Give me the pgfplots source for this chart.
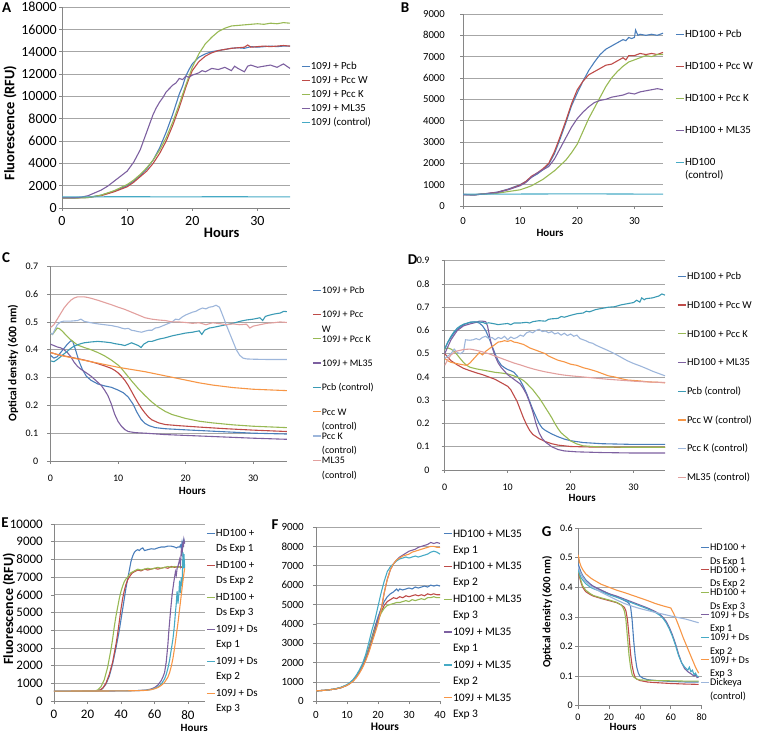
\documentclass[border=0pt]{standalone}
\usepackage{pgfplots}
\pgfplotsset{compat=1.18}
\usepackage{fontspec}
\setmainfont{Carlito}
\definecolor{cblue}{HTML}{4A7EBB}
\definecolor{cred}{HTML}{BE4B48}
\definecolor{cgreen}{HTML}{98B954}
\definecolor{cpurple}{HTML}{7D60A0}
\definecolor{caqua}{HTML}{46AAC5}
\definecolor{cteal}{HTML}{3A9AB4}
\definecolor{corange}{HTML}{F79646}
\definecolor{clblue}{HTML}{9DB6DB}
\definecolor{cpink}{HTML}{E2A09E}
\definecolor{gridc}{HTML}{A6A6A6}
\definecolor{axc}{HTML}{868686}
\newcommand{\fs}[1]{\fontsize{#1}{#1}\selectfont}
\newcommand{\two}[3]{\renewcommand{\arraystretch}{#1}\begin{tabular}[t]{@{}l@{}}#2\\#3\end{tabular}}
\pgfplotsset{
  panel/.style={
    scale only axis, anchor=north west,
    axis x line*=bottom, axis y line*=left,
    axis line style={-, draw=axc, line width=0.7pt},
    ymajorgrids, grid style={draw=gridc, line width=0.7pt},
    tick style={draw=axc, line width=0.6pt}, tick align=outside, major tick length=3pt,
    enlargelimits=false, clip=true,
    scaled ticks=false,
    /pgf/number format/assume math mode=true,
    /pgf/number format/fixed,
    /pgf/number format/set thousands separator={},
    every axis plot/.append style={line width=1.1pt, mark=none},
    xlabel={Hours}, ymin=0,
    legend image code/.code={\path (0pt,0pt); \draw[##1,line width=1.3pt] (0pt,3.3pt) -- (8pt,3.3pt);},
  },
  lg/.style n args={5}{legend style={at={(#1,#2)}, anchor=north west, draw=none, fill=none,
      inner xsep=0pt, inner ysep=0pt, row sep=0pt, column sep=0.5pt, font=\fs{#3},
      cells={anchor=base west},
      nodes={inner sep=0pt, outer sep=0pt, text height=#4, text depth=#5}}},
  tl/.style n args={3}{tick label style={font=\fs{#1}},
      yticklabel style={anchor=east, inner sep=0pt, xshift=-#2},
      xticklabel style={anchor=north, inner sep=0pt, yshift=-#3}},
  xl/.style n args={3}{every axis x label/.style={at={(axis description cs:#1,#2)}, anchor=center, font=\bfseries\fs{#3}}},
  yl/.style n args={3}{every axis y label/.style={at={(axis description cs:#1,#2)}, anchor=center, rotate=90, font=\bfseries\fs{#3}}},
}
\begin{document}
\begin{tikzpicture}
\path[use as bounding box] (0pt,0pt) rectangle (760pt,-733pt);

% ---------------- A ----------------
\begin{axis}[panel, at={(62pt,-7pt)}, width=228pt, height=201pt,
  xmin=0, xmax=35, ymax=18000, xtick={0,10,20,30}, ytick={0,2000,...,18000},
  tl={14}{2pt}{5pt}, xl={0.70}{-0.124}{14.5}, yl={-0.228}{0.423}{14.5},
  ylabel={Fluorescence (RFU)},
  lg={1.0482}{0.7289}{10.8}{8.1pt}{5.9pt}]
\addplot[cblue] coordinates {(0,900)(2,910)(4,950)(6,1150)(8,1500)(10,2000)(11,2400)(12,2900)(13,3500)(14,4300)(15,5400)(16,6800)(17,8400)(17.5,9300)(18,10200)(18.5,10900)(19,11800)(19.5,12400)(20,12900)(20.5,13200)(21,13500)(22,13800)(23,14000)(24,14100)(25,14200)(26,14300)(27,14350)(28,14300)(29,14450)(30,14400)(31,14450)(32,14500)(33,14450)(34,14500)(35,14500)};
\addlegendentry{109J + Pcb}
\addplot[cred] coordinates {(0,900)(2,910)(4,940)(6,1100)(8,1450)(10,1900)(11,2300)(12,2800)(13,3300)(14,4000)(15,4900)(16,6000)(17,7400)(18,9000)(18.5,9900)(19,10800)(19.5,11600)(20,12300)(21,13100)(22,13600)(23,13900)(24,14100)(25,14200)(26,14300)(27,14350)(28,14400)(28.5,14600)(29,14400)(30,14450)(31,14500)(32,14450)(33,14500)(34,14550)(35,14500)};
\addlegendentry{109J + Pcc W}
\addplot[cgreen] coordinates {(0,880)(2,890)(4,930)(6,1150)(8,1550)(10,2100)(11,2500)(12,3000)(13,3600)(14,4300)(15,5200)(16,6300)(17,7700)(18,9300)(19,11000)(20,12600)(21,13800)(22,14700)(23,15300)(24,15800)(25,16100)(26,16300)(27,16350)(28,16400)(29,16450)(30,16500)(31,16450)(32,16550)(33,16500)(34,16600)(35,16550)};
\addlegendentry{109J + Pcc K}
\addplot[cpurple] coordinates {(0,900)(2,920)(3,980)(4,1100)(5,1350)(6,1600)(7,1950)(8,2400)(9,2850)(10,3300)(11,4100)(12,5200)(12.5,6000)(13,6800)(13.5,7600)(14,8400)(14.5,9000)(15,9500)(15.5,9900)(16,10400)(16.5,10700)(17,11000)(17.5,11200)(18,11600)(18.5,11500)(19,11800)(19.5,11700)(20,11900)(21,12100)(21.5,12300)(22,12200)(23,12500)(24,12400)(25,12600)(26,12300)(26.5,12700)(27,12500)(28,12200)(28.5,12700)(29,12800)(30,12600)(31,12700)(32,12800)(33,12600)(34,12900)(34.5,12700)(35,12500)};
\addlegendentry{109J + ML35}
\addplot[caqua] coordinates {(0,1000)(5,1000)(10,1010)(15,1000)(20,1000)(25,1010)(30,1000)(35,1000)};
\addlegendentry{109J (control)}
\end{axis}

% ---------------- B ----------------
\begin{axis}[panel, at={(463pt,-14pt)}, width=200pt, height=192pt,
  xmin=0, xmax=35, ymax=9000, xtick={0,10,20,30}, ytick={0,1000,...,9000},
  tl={10.7}{15pt}{8pt}, xl={0.435}{-0.14}{11},
  lg={1.06}{0.9199}{11}{8.25pt}{23.75pt}]
\addplot[cblue] coordinates {(0,540)(1,520)(2,510)(3,560)(4,580)(6,650)(8,800)(10,1000)(11,1150)(12,1350)(13,1500)(14,1700)(15,1950)(16,2450)(17,3150)(18,3900)(19,4700)(20,5300)(21,5850)(22,6350)(23,6750)(24,7100)(25,7350)(26,7500)(27,7650)(28,7800)(28.5,7750)(29,7900)(29.5,7850)(30,7900)(30.2,8250)(30.6,8000)(31,8050)(32,8000)(33,8050)(34,8000)(35,8100)};
\addlegendentry{HD100 + Pcb}
\addplot[cred] coordinates {(0,540)(2,530)(4,580)(6,640)(8,780)(10,980)(11,1150)(12,1400)(13,1550)(14,1750)(15,2000)(16,2550)(17,3250)(18,4000)(19,4800)(20,5450)(21,5850)(22,6150)(23,6300)(24,6450)(25,6600)(26,6650)(27,6800)(28,6950)(28.5,6850)(29,7050)(30,7050)(31,7150)(32,7100)(33,7150)(34,7100)(35,7200)};
\addlegendentry{HD100 + Pcc W}
\addplot[cgreen] coordinates {(0,530)(2,530)(4,560)(6,600)(8,680)(10,760)(11,850)(12,950)(13,1100)(14,1250)(15,1450)(16,1650)(17,1900)(18,2150)(19,2500)(20,2900)(21,3500)(22,4100)(23,4600)(24,5100)(25,5600)(26,6000)(27,6300)(28,6550)(29,6750)(30,6850)(31,6950)(32,7050)(33,7000)(34,7100)(35,7100)};
\addlegendentry{HD100 + Pcc K}
\addplot[cpurple] coordinates {(0,530)(2,520)(4,570)(6,630)(8,770)(10,950)(11,1100)(12,1350)(13,1550)(14,1700)(15,1850)(16,2200)(17,2700)(18,3200)(19,3700)(20,4100)(21,4400)(22,4650)(23,4850)(24,4950)(25,5000)(26,5100)(27,5150)(28,5200)(29,5300)(30,5250)(31,5350)(32,5400)(33,5450)(34,5500)(35,5450)};
\addlegendentry{HD100 + ML35}
\addplot[caqua] coordinates {(0,560)(10,560)(20,570)(30,560)(35,560)};
\addlegendentry{\two{1.18}{HD100}{(control)}}
\end{axis}

% ---------------- C ----------------
\begin{axis}[panel, at={(50.5pt,-266.3pt)}, width=236.5pt, height=194.7pt,
  xmin=0, xmax=35, ymax=0.7, xtick={0,10,20,30}, ytick={0,0.1,...,0.7},
  yticklabel style={/pgf/number format/precision=1},
  tl={10}{9pt}{11pt}, xl={0.60}{-0.154}{11}, yl={-0.159}{0.503}{11.5},
  ylabel={Optical density (600 nm)},
  lg={1.1057}{0.8998}{10}{7.5pt}{16.8pt}]
\addplot[cblue] coordinates {(0,0.38)(0.5,0.37)(1,0.375)(1.5,0.39)(2,0.405)(2.5,0.42)(3,0.432)(3.3,0.43)(3.7,0.40)(4.2,0.36)(4.7,0.33)(5.3,0.305)(6,0.29)(7,0.277)(8,0.27)(9,0.265)(10,0.255)(10.8,0.245)(11.5,0.23)(12.2,0.205)(12.8,0.175)(13.4,0.15)(14,0.135)(14.6,0.127)(15.5,0.12)(17,0.116)(20,0.112)(25,0.106)(30,0.10)(35,0.097)};
\addlegendentry{109J + Pcb}
\addplot[cred] coordinates {(0,0.39)(1,0.383)(2,0.378)(3,0.373)(4,0.368)(5,0.363)(6,0.357)(7,0.35)(8,0.342)(9,0.333)(9.5,0.326)(10,0.317)(10.5,0.305)(11,0.29)(11.5,0.272)(12,0.25)(12.5,0.228)(13,0.207)(13.5,0.188)(14,0.172)(14.5,0.158)(15,0.148)(16,0.137)(17,0.131)(19,0.127)(22,0.122)(26,0.116)(30,0.111)(35,0.106)};
\addlegendentry{\two{1.45}{109J + Pcc}{W}}
\addplot[cgreen] coordinates {(0,0.46)(0.3,0.455)(0.7,0.468)(1,0.478)(1.3,0.476)(1.7,0.468)(2.2,0.455)(2.8,0.44)(3.3,0.43)(4,0.417)(5,0.408)(6,0.4)(7,0.39)(8,0.378)(9,0.363)(10,0.345)(10.5,0.333)(11,0.318)(11.5,0.303)(12,0.288)(13,0.26)(14,0.235)(15,0.212)(16,0.193)(17,0.178)(18,0.167)(19,0.16)(20,0.153)(22,0.143)(24,0.137)(27,0.13)(30,0.125)(35,0.12)};
\addlegendentry{109J + Pcc K}
\addplot[cpurple] coordinates {(0,0.42)(0.5,0.415)(1,0.41)(1.5,0.407)(2,0.4)(2.5,0.39)(3,0.375)(3.5,0.355)(4,0.34)(4.5,0.33)(5,0.322)(6,0.305)(7,0.283)(7.5,0.272)(8,0.255)(8.5,0.235)(9,0.205)(9.5,0.168)(10,0.142)(10.5,0.125)(11,0.113)(11.5,0.106)(12.5,0.102)(14,0.1)(17,0.095)(20,0.092)(25,0.087)(30,0.082)(35,0.078)};
\addlegendentry{109J + ML35}
\addplot[cteal] coordinates {(0,0.36)(0.5,0.357)(1,0.365)(1.5,0.375)(2,0.385)(2.5,0.395)(3,0.405)(3.5,0.413)(4,0.418)(4.5,0.422)(5,0.425)(6,0.428)(7,0.43)(8,0.428)(9,0.425)(9.5,0.422)(10,0.42)(10.5,0.418)(11,0.415)(11.5,0.42)(12,0.425)(12.5,0.42)(13,0.415)(13.4,0.408)(13.8,0.42)(14.5,0.43)(15,0.43)(16,0.438)(17,0.443)(18,0.45)(19,0.455)(20,0.46)(21,0.463)(22,0.468)(22.4,0.455)(22.8,0.47)(23.5,0.478)(24,0.48)(25,0.485)(26,0.49)(27,0.495)(28,0.502)(29,0.507)(30,0.51)(31,0.515)(31.4,0.505)(31.8,0.52)(32.5,0.525)(33,0.528)(34,0.532)(34.5,0.538)(35,0.537)};
\addlegendentry{Pcb (control)}
\addplot[corange] coordinates {(0,0.39)(1,0.383)(2,0.377)(3,0.372)(4,0.367)(5,0.362)(6,0.357)(7,0.352)(8,0.347)(9,0.342)(10,0.337)(11,0.333)(12,0.329)(13,0.325)(14,0.321)(15,0.316)(16,0.311)(17,0.306)(18,0.301)(19,0.296)(20,0.291)(21,0.286)(22,0.281)(23,0.277)(24,0.273)(25,0.27)(26,0.267)(27,0.264)(28,0.262)(29,0.26)(30,0.258)(32,0.256)(35,0.253)};
\addlegendentry{\two{1.45}{Pcc W}{(control)}}
\addplot[clblue] coordinates {(0,0.46)(0.3,0.455)(0.7,0.475)(1,0.49)(1.5,0.5)(2,0.503)(3,0.503)(4,0.505)(4.5,0.51)(5,0.502)(6,0.497)(7,0.493)(8,0.49)(9,0.487)(10,0.482)(10.5,0.478)(11,0.475)(11.5,0.477)(12,0.47)(12.5,0.468)(13,0.465)(13.5,0.463)(14,0.467)(14.5,0.47)(15,0.47)(15.5,0.478)(16,0.48)(17,0.49)(18,0.5)(18.5,0.51)(19,0.508)(19.5,0.518)(20,0.525)(20.5,0.53)(21,0.535)(21.5,0.538)(22,0.545)(22.5,0.55)(23,0.547)(23.5,0.553)(24,0.555)(24.5,0.56)(25,0.553)(25.3,0.535)(25.7,0.51)(26,0.49)(26.5,0.46)(27,0.43)(27.5,0.4)(28,0.38)(28.5,0.37)(29,0.367)(30,0.366)(32,0.365)(35,0.365)};
\addlegendentry{\two{1.45}{Pcc K}{(control)}}
\addplot[cpink] coordinates {(0,0.48)(0.5,0.49)(1,0.51)(1.5,0.53)(2,0.55)(2.5,0.565)(3,0.578)(3.5,0.586)(4,0.59)(5,0.59)(5.5,0.588)(6,0.585)(7,0.578)(8,0.57)(9,0.562)(10,0.553)(11,0.545)(12,0.535)(13,0.525)(14,0.515)(15,0.51)(16,0.507)(17,0.505)(18,0.5)(19,0.5)(20,0.498)(21,0.495)(22,0.497)(23,0.49)(24,0.497)(25,0.494)(26,0.49)(27,0.493)(28,0.49)(29,0.492)(29.5,0.478)(30,0.485)(31,0.49)(32,0.495)(33,0.497)(34,0.5)(35,0.498)};
\addlegendentry{\two{1.45}{ML35}{(control)}}
\end{axis}

% ---------------- D ----------------
\begin{axis}[panel, at={(444.7pt,-260.7pt)}, width=220.3pt, height=209.3pt,
  xmin=0, xmax=35, ymax=0.9, xtick={0,10,20,30}, ytick={0,0.1,...,0.9},
  yticklabel style={/pgf/number format/precision=1},
  tl={10}{12pt}{11pt}, xl={0.624}{-0.134}{11},
  lg={1.0545}{0.948}{10.5}{7.875pt}{20.825pt}]
\addplot[cblue] coordinates {(0,0.52)(0.5,0.55)(1,0.57)(1.5,0.59)(2,0.605)(2.5,0.615)(3,0.625)(3.5,0.63)(4,0.635)(4.5,0.637)(5,0.636)(5.5,0.632)(6,0.62)(6.5,0.6)(7,0.57)(7.5,0.535)(8,0.5)(8.5,0.47)(9,0.45)(9.5,0.44)(10,0.432)(10.5,0.427)(11,0.42)(11.5,0.405)(12,0.385)(12.5,0.36)(13,0.33)(13.5,0.295)(14,0.26)(14.5,0.23)(15,0.2)(15.5,0.18)(16,0.17)(17,0.155)(18,0.143)(19,0.133)(20,0.126)(22,0.118)(25,0.113)(30,0.11)(35,0.11)};
\addlegendentry{HD100 + Pcb}
\addplot[cred] coordinates {(0,0.5)(0.5,0.485)(1,0.47)(2,0.452)(3,0.437)(4,0.427)(5,0.418)(6,0.41)(7,0.4)(8,0.39)(9,0.375)(10,0.36)(10.5,0.345)(11,0.32)(11.5,0.295)(12,0.26)(12.5,0.225)(13,0.195)(13.5,0.17)(14,0.153)(15,0.135)(16,0.122)(17,0.113)(18,0.107)(20,0.101)(23,0.099)(27,0.098)(35,0.098)};
\addlegendentry{HD100 + Pcc W}
\addplot[cgreen] coordinates {(0,0.52)(0.5,0.525)(1,0.52)(1.5,0.51)(2,0.495)(2.5,0.478)(3,0.462)(3.5,0.45)(4,0.442)(5,0.435)(6,0.43)(7,0.425)(8,0.42)(9,0.417)(10,0.413)(11,0.405)(12,0.393)(12.5,0.385)(13,0.373)(14,0.345)(15,0.31)(15.5,0.29)(16,0.268)(16.5,0.247)(17,0.225)(17.5,0.2)(18,0.178)(18.5,0.16)(19,0.148)(19.5,0.137)(20,0.125)(21,0.112)(22,0.104)(24,0.1)(28,0.098)(35,0.098)};
\addlegendentry{HD100 + Pcc K}
\addplot[cpurple] coordinates {(0,0.5)(0.5,0.53)(1,0.56)(1.5,0.58)(2,0.6)(3,0.62)(4,0.628)(5,0.635)(5.5,0.64)(6,0.64)(6.5,0.638)(6.8,0.62)(7.1,0.58)(7.5,0.53)(8,0.49)(8.5,0.46)(9,0.44)(10,0.41)(11,0.39)(12,0.37)(12.5,0.35)(13,0.325)(13.5,0.29)(14,0.25)(14.5,0.2)(15,0.16)(15.5,0.135)(16,0.12)(17,0.1)(18,0.088)(19,0.082)(21,0.078)(25,0.075)(30,0.073)(35,0.073)};
\addlegendentry{HD100 + ML35}
\addplot[cteal] coordinates {(0,0.52)(0.5,0.55)(1,0.575)(1.5,0.595)(2,0.61)(2.5,0.62)(3,0.627)(4,0.635)(5,0.637)(6,0.635)(6.5,0.63)(7,0.633)(8,0.628)(8.5,0.625)(9,0.627)(10,0.63)(10.5,0.625)(11,0.632)(12,0.632)(13,0.635)(13.5,0.632)(14,0.638)(15,0.642)(16,0.64)(16.5,0.648)(17,0.65)(18,0.652)(18.5,0.66)(19,0.657)(20,0.665)(21,0.672)(22,0.675)(22.5,0.683)(23,0.68)(24,0.69)(25,0.695)(26,0.7)(27,0.702)(28,0.71)(29,0.715)(30,0.72)(30.5,0.73)(31,0.722)(31.3,0.74)(31.7,0.732)(32,0.737)(33,0.74)(34,0.748)(34.5,0.757)(35,0.752)};
\addlegendentry{Pcb (control)}
\addplot[corange] coordinates {(0,0.48)(0.5,0.47)(1,0.463)(2,0.457)(3,0.452)(3.5,0.45)(4,0.46)(4.5,0.475)(5,0.49)(5.5,0.505)(6,0.495)(6.5,0.51)(7,0.52)(7.5,0.53)(8,0.54)(8.5,0.55)(9,0.552)(9.5,0.556)(10,0.553)(10.5,0.557)(11,0.55)(11.5,0.548)(12,0.544)(12.5,0.54)(13,0.533)(13.5,0.525)(14,0.52)(15,0.51)(16,0.5)(16.5,0.49)(17,0.484)(18,0.472)(19,0.465)(20,0.455)(21,0.45)(22,0.44)(23,0.433)(24,0.425)(25,0.415)(26,0.405)(27,0.4)(28,0.393)(29,0.387)(30,0.385)(31,0.383)(32,0.38)(33,0.378)(34,0.377)(35,0.375)};
\addlegendentry{Pcc W (control)}
\addplot[clblue] coordinates {(0,0.48)(0.5,0.49)(1,0.5)(1.5,0.52)(2,0.505)(2.5,0.5)(3,0.51)(3.3,0.56)(4,0.558)(4.5,0.56)(5,0.565)(5.5,0.56)(6,0.57)(6.5,0.575)(7,0.565)(7.5,0.57)(8,0.56)(8.5,0.57)(9,0.565)(9.5,0.575)(10,0.56)(10.5,0.572)(11,0.565)(11.5,0.57)(12,0.58)(12.5,0.575)(13,0.59)(13.5,0.595)(14,0.59)(14.5,0.6)(15,0.605)(15.5,0.595)(16,0.598)(16.5,0.59)(17,0.595)(17.5,0.585)(18,0.59)(18.5,0.58)(19,0.588)(19.5,0.578)(20,0.585)(20.5,0.575)(21,0.58)(21.5,0.565)(22,0.56)(22.5,0.555)(23,0.548)(23.5,0.545)(24,0.537)(25,0.525)(26,0.513)(27,0.5)(28,0.485)(29,0.47)(30,0.458)(31,0.448)(32,0.437)(33,0.425)(34,0.415)(35,0.405)};
\addlegendentry{Pcc K (control)}
\addplot[cpink] coordinates {(0,0.45)(0.5,0.475)(1,0.495)(1.5,0.505)(2,0.512)(3,0.518)(4,0.52)(5,0.515)(6,0.508)(7,0.5)(8,0.49)(9,0.48)(10,0.47)(11,0.46)(12,0.452)(13,0.443)(14,0.435)(15,0.428)(16,0.422)(17,0.417)(18,0.412)(19,0.408)(20,0.405)(22,0.4)(24,0.395)(26,0.39)(28,0.386)(30,0.382)(32,0.379)(35,0.376)};
\addlegendentry{ML35 (control)}
\end{axis}

% ---------------- E ----------------
\begin{axis}[panel, at={(54pt,-524pt)}, width=150.75pt, height=177pt,
  xmin=0, xmax=90, ymax=10000, xtick={0,20,...,80}, ytick={0,1000,...,10000},
  tl={13}{8pt}{6pt}, xl={0.93}{-0.15}{11}, yl={-0.299}{0.52}{14},
  ylabel={Fluorescence (RFU)},
  lg={1.0083}{0.9751}{11}{8.25pt}{23.75pt}]
\addplot[cblue] coordinates {(0,540)(10,545)(20,550)(25,560)(27,600)(29,700)(31,950)(33,1400)(35,2100)(37,3000)(38,3500)(39,4000)(40,4600)(41,5200)(42,5800)(43,6400)(44,6900)(45,7400)(46,7900)(47,8200)(48,8400)(49,8500)(50,8550)(51,8500)(52,8600)(53,8650)(54,8500)(56,8550)(58,8600)(60,8580)(62,8650)(64,8700)(66,8700)(68,8750)(70,8750)(72,8700)(73,8650)(74,8700)(75,8700)(75.5,8800)(76,8650)(76.5,9000)(77,8800)(77.5,9100)(78,8900)};
\addlegendentry{\two{1.36}{HD100 +}{Ds Exp 1}}
\addplot[cred] coordinates {(0,540)(20,550)(25,560)(27,600)(29,720)(31,1000)(33,1500)(35,2200)(37,3200)(38,3800)(39,4500)(40,5200)(41,5800)(42,6250)(43,6600)(44,6850)(45,7000)(46,7150)(47,7250)(48,7300)(50,7400)(52,7350)(54,7450)(56,7400)(58,7450)(60,7500)(62,7450)(64,7500)(66,7550)(68,7500)(70,7600)(72,7550)(74,7600)(76,7550)(78,7600)};
\addlegendentry{\two{1.36}{HD100 +}{Ds Exp 2}}
\addplot[cgreen] coordinates {(0,540)(20,550)(24,560)(26,620)(28,800)(30,1200)(32,1900)(34,2900)(35,3500)(36,4200)(37,4800)(38,5300)(39,5800)(40,6200)(41,6500)(42,6750)(43,6900)(44,7000)(45,7150)(46,7250)(48,7350)(50,7450)(52,7400)(54,7450)(56,7500)(58,7450)(60,7500)(62,7550)(64,7500)(66,7550)(68,7600)(70,7550)(72,7600)(74,7550)(76,7600)(78,7550)};
\addlegendentry{\two{1.36}{HD100 +}{Ds Exp 3}}
\addplot[cpurple] coordinates {(0,560)(20,560)(40,570)(50,590)(55,620)(58,680)(60,760)(62,900)(64,1150)(65,1350)(66,1600)(67,2200)(68,3200)(68.6,4000)(69.5,5000)(70.5,6000)(71.5,6700)(72,7000)(72.5,7300)(73,7100)(73.5,7500)(74,7600)(75,8000)(75.5,7700)(76,8500)(76.5,8300)(77,9000)(77.3,8700)(77.6,9100)(78,8900)};
\addlegendentry{\two{1.36}{109J + Ds}{Exp 1}}
\addplot[caqua] coordinates {(0,560)(40,570)(50,590)(55,610)(58,650)(60,710)(62,800)(64,950)(66,1250)(67,1500)(68,1850)(69,2300)(70,2900)(71,3500)(71.6,4000)(72,4400)(72.5,5000)(73,5500)(73.5,6200)(74,5500)(74.5,6000)(75,6800)(75.5,6100)(76,7000)(76.5,6500)(77,8400)(77.3,7500)(77.6,8300)(78,7500)};
\addlegendentry{\two{1.36}{109J + Ds}{Exp 2}}
\addplot[corange] coordinates {(0,560)(40,570)(50,585)(55,600)(58,640)(60,690)(62,760)(64,880)(66,1050)(68,1350)(69,1600)(70,1950)(71,2400)(72,3000)(73,3700)(74,4400)(75,5200)(76,6000)(77,6800)(78,7500)};
\addlegendentry{\two{1.36}{109J + Ds}{Exp 3}}
\end{axis}

% ---------------- F ----------------
\begin{axis}[panel, at={(316pt,-527pt)}, width=124pt, height=174.3pt,
  xmin=0, xmax=40, ymax=9000, xtick={0,10,...,40}, ytick={0,1000,...,9000},
  tl={11}{9pt}{7pt}, xl={0.556}{-0.147}{11.5},
  lg={1.0242}{0.9931}{11.5}{8.625pt}{24.175pt}]
\addplot[cblue] coordinates {(0,540)(3,570)(6,630)(8,710)(10,840)(11,950)(12,1100)(13,1300)(14,1550)(15,1850)(16,2250)(17,2750)(18,3300)(19,3850)(20,4350)(21,4800)(22,5150)(23,5400)(24,5550)(25,5650)(26,5800)(26.5,5700)(27,5800)(28,5750)(29,5800)(30,5850)(31,5800)(32,5900)(33,5850)(34,5900)(35,5950)(36,5900)(37,6000)(38,5950)(39,6000)(40,5950)};
\addlegendentry{\two{1.39}{HD100 + ML35}{Exp 1}}
\addplot[cred] coordinates {(0,540)(3,570)(6,630)(8,700)(10,830)(11,940)(12,1080)(13,1280)(14,1520)(15,1820)(16,2200)(17,2680)(18,3200)(19,3750)(20,4200)(21,4600)(22,4950)(23,5150)(24,5250)(25,5350)(26,5300)(27,5400)(28,5350)(29,5450)(30,5400)(31,5450)(32,5500)(33,5450)(34,5500)(35,5450)(36,5550)(37,5500)(38,5550)(39,5500)(40,5500)};
\addlegendentry{\two{1.39}{HD100 + ML35}{Exp 2}}
\addplot[cgreen] coordinates {(0,540)(3,570)(6,630)(8,700)(10,830)(11,940)(12,1080)(13,1280)(14,1520)(15,1820)(16,2200)(17,2680)(18,3200)(19,3700)(20,4150)(21,4550)(22,4800)(23,4950)(24,5000)(25,5050)(26,5100)(27,5100)(28,5150)(29,5200)(30,5150)(31,5250)(32,5200)(33,5250)(34,5300)(35,5250)(36,5350)(37,5350)(38,5400)(39,5350)(40,5350)};
\addlegendentry{\two{1.39}{HD100 + ML35}{Exp 3}}
\addplot[cpurple] coordinates {(0,540)(3,570)(6,630)(8,700)(10,830)(11,930)(12,1060)(13,1250)(14,1480)(15,1780)(16,2150)(17,2600)(18,3100)(19,3600)(20,4200)(21,4700)(22,5600)(23,6300)(24,6800)(25,7100)(26,7300)(27,7450)(28,7550)(29,7650)(30,7750)(31,7800)(32,7850)(33,7950)(34,8000)(35,8050)(36,8100)(37,8200)(38,8150)(39,8200)(40,8150)};
\addlegendentry{\two{1.39}{109J + ML35}{Exp 1}}
\addplot[caqua] coordinates {(0,540)(3,570)(6,640)(8,720)(10,860)(11,980)(12,1130)(13,1350)(14,1620)(15,1950)(16,2400)(17,3000)(18,3650)(19,4200)(20,4900)(21,5600)(22,6200)(23,6700)(24,6950)(25,7100)(26,7250)(27,7350)(28,7400)(29,7450)(30,7400)(31,7450)(32,7500)(33,7450)(34,7500)(35,7550)(36,7600)(37,7700)(38,7750)(39,7700)(40,7600)};
\addlegendentry{\two{1.39}{109J + ML35}{Exp 2}}
\addplot[corange] coordinates {(0,540)(3,570)(6,630)(8,700)(10,820)(11,920)(12,1040)(13,1220)(14,1450)(15,1730)(16,2080)(17,2500)(18,3000)(19,3500)(20,4000)(21,4700)(22,5600)(23,6300)(24,6800)(25,7100)(26,7300)(27,7400)(28,7500)(29,7550)(30,7600)(31,7700)(32,7750)(33,7800)(34,7850)(35,7900)(36,7950)(37,8000)(38,8000)(39,7950)(40,7950)};
\addlegendentry{\two{1.39}{109J + ML35}{Exp 3}}
\end{axis}

% ---------------- G ----------------
\begin{axis}[panel, at={(578pt,-528pt)}, width=123.7pt, height=177.7pt,
  xmin=0, xmax=80, ymax=0.6, xtick={0,20,...,80}, ytick={0,0.1,...,0.6},
  yticklabel style={/pgf/number format/precision=1},
  tl={10}{2pt}{5pt}, xl={0.364}{-0.121}{11}, yl={-0.25}{0.527}{11},
  ylabel={Optical density (600 nm)},
  lg={0.9863}{0.9173}{10.3}{7.725pt}{14.775pt}]
\addplot[cblue] coordinates {(0,0.48)(1,0.465)(2,0.45)(3,0.44)(5,0.425)(8,0.41)(10,0.402)(15,0.39)(20,0.378)(25,0.368)(30,0.355)(32,0.35)(33,0.345)(34,0.335)(35,0.29)(36,0.22)(37,0.165)(38,0.13)(39,0.11)(40,0.1)(42,0.093)(45,0.088)(50,0.085)(60,0.082)(70,0.08)(78,0.08)};
\addlegendentry{\two{1.31}{HD100 +}{Ds Exp 1}}
\addplot[cred] coordinates {(0,0.455)(1,0.435)(2,0.415)(3,0.4)(5,0.385)(8,0.375)(10,0.37)(15,0.362)(20,0.355)(25,0.348)(28,0.34)(30,0.332)(31,0.32)(32,0.29)(33,0.235)(34,0.175)(35,0.135)(36,0.11)(37,0.095)(38,0.09)(40,0.085)(45,0.08)(50,0.078)(60,0.075)(70,0.073)(78,0.072)};
\addlegendentry{\two{1.31}{HD100 +}{Ds Exp 2}}
\addplot[cgreen] coordinates {(0,0.46)(1,0.44)(2,0.42)(3,0.405)(5,0.39)(8,0.378)(10,0.372)(15,0.364)(20,0.357)(25,0.349)(28,0.34)(29,0.332)(30,0.32)(31,0.29)(32,0.23)(33,0.17)(34,0.13)(35,0.105)(36,0.097)(38,0.09)(40,0.087)(50,0.085)(60,0.084)(70,0.083)(78,0.083)};
\addlegendentry{\two{1.31}{HD100 +}{Ds Exp 3}}
\addplot[cpurple] coordinates {(0,0.47)(1,0.455)(2,0.445)(3,0.435)(5,0.42)(8,0.41)(10,0.403)(15,0.39)(20,0.378)(25,0.37)(30,0.36)(35,0.35)(40,0.34)(45,0.33)(50,0.318)(53,0.308)(55,0.298)(57,0.285)(59,0.265)(61,0.24)(63,0.21)(65,0.175)(67,0.145)(69,0.125)(71,0.115)(73,0.108)(75,0.1)(76,0.105)(77,0.095)(78,0.097)};
\addlegendentry{\two{1.31}{109J + Ds}{Exp 1}}
\addplot[caqua] coordinates {(0,0.46)(1,0.445)(2,0.432)(3,0.425)(5,0.412)(8,0.4)(10,0.395)(15,0.385)(20,0.375)(25,0.366)(30,0.357)(35,0.347)(40,0.337)(45,0.327)(50,0.315)(53,0.305)(55,0.295)(57,0.28)(59,0.26)(61,0.235)(63,0.205)(65,0.17)(67,0.145)(69,0.13)(71,0.12)(72,0.13)(73,0.115)(74,0.12)(75,0.105)(76,0.11)(77,0.1)(78,0.098)};
\addlegendentry{\two{1.31}{109J + Ds}{Exp 2}}
\addplot[corange] coordinates {(0,0.51)(0.5,0.5)(1,0.485)(2,0.47)(3,0.46)(5,0.445)(8,0.432)(10,0.425)(15,0.41)(20,0.4)(25,0.39)(30,0.382)(35,0.373)(40,0.364)(45,0.355)(50,0.345)(55,0.337)(60,0.33)(62,0.31)(64,0.285)(66,0.258)(68,0.23)(70,0.205)(72,0.18)(74,0.155)(76,0.13)(78,0.11)};
\addlegendentry{\two{1.31}{109J + Ds}{Exp 3}}
\addplot[clblue] coordinates {(0,0.47)(1,0.455)(2,0.445)(3,0.435)(5,0.42)(8,0.405)(10,0.398)(15,0.383)(20,0.37)(25,0.357)(30,0.345)(35,0.336)(40,0.328)(50,0.315)(60,0.303)(70,0.292)(78,0.28)};
\addlegendentry{\two{1.31}{Dickeya}{(control)}}
\end{axis}

% panel letters
\node[font=\bfseries\fs{15}] at (6.7pt,-7.3pt) {A};
\node[font=\bfseries\fs{15}] at (405pt,-7.3pt) {B};
\node[font=\bfseries\fs{15}] at (6pt,-258pt) {C};
\node[font=\bfseries\fs{15}] at (412.5pt,-260pt) {D};
\node[font=\bfseries\fs{15}] at (5pt,-523pt) {E};
\node[font=\bfseries\fs{15}] at (275pt,-525pt) {F};
\node[font=\bfseries\fs{15}] at (546.7pt,-531.7pt) {G};
\end{tikzpicture}
\end{document}
